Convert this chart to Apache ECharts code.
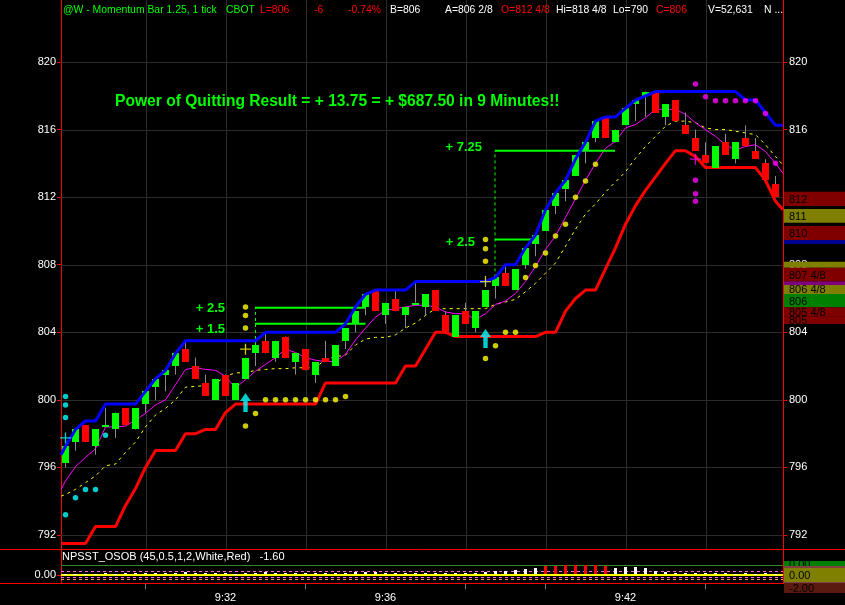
<!DOCTYPE html>
<html>
<head>
<meta charset="utf-8">
<title>Momentum Bar chart</title>
<script src="https://cdn.jsdelivr.net/npm/echarts@6.0.0/dist/echarts.min.js"></script>
<style>
html,body{margin:0;padding:0;background:#000;overflow:hidden}
#chart{width:845px;height:605px}
</style>
</head>
<body>
<div id="chart"></div>
<script>
// ================= DATA =================
const opens  = [796.25,797.5,798.5,797.25,798.5,798.25,799.5,798.25,799.75,800.75,
                801.5,802,803,802,801,800,801.5,800,801.25,802.75,
                803.5,802.5,803.75,802.25,803,801.5,802.5,802,803.5,804.5,
                805.5,806.5,805,806,805,805.75,805.5,806.5,805,803.75,
                805.25,804.25,805.5,806.75,807.5,806.5,808,809.25,810,811.5,
                812.5,813.25,814.75,815.5,816.75,815.25,816.25,817.5,818,818.25,
                816.75,817.75,816.25,815.5,814.5,813.75,815.25,814.25,815.5,814.75,
                814,812.75];
const closes = [797.25,798.25,797.5,798.25,798.5,799.25,798.5,799.5,800.5,801.25,
                801.75,802.75,802.25,801.25,800.25,801.25,800.25,801,802.5,803.25,
                802.75,803.5,802.5,802.75,801.75,802.25,802.25,803.25,804.25,805.25,
                806.25,805.25,805.75,805.25,805.5,805.75,806.25,805.25,804,805,
                804.5,805.25,806.5,807.25,806.75,807.75,809,809.75,811.25,812.25,
                813,814.5,815.25,816.5,815.5,816,817.25,817.75,818.25,817,
                817.5,816.5,815.75,814.75,814,815,814.5,815.25,815,814.25,
                813,812];
const lows   = [796,797,797.5,796.75,798.5,797.75,798.5,798.25,799.25,800,
                800.5,801.5,802.25,801.25,800.25,800,800.25,800,801.25,802,
                802.75,802.25,802.5,801.5,801.75,801,802.25,802,803,804,
                805,805.25,804.5,805.25,804.25,805.75,805,805.25,804,803.75,
                804.5,804,805.5,806,806.75,806.5,807.75,808.5,810,811,
                811.75,813.25,814,815.25,815.5,815.25,816.25,816.5,816.75,817,
                816.25,816.5,815.75,814.75,814,813.75,814.5,814,815,814.25,
                813,812];
const highs  = [797.25,798.25,798.5,798.25,799.5,799.25,799.5,799.5,800.5,801.25,
                801.75,802.75,803.5,802.5,801.5,801.25,801.5,801,802.5,803.25,
                804,803.5,803.75,802.75,803,802.25,803.5,803.25,804.25,805.25,
                806.25,806.5,805.75,806.5,805.5,807,806.25,806.5,805.25,805,
                805.75,805.25,806.5,807.25,808,807.75,809,809.75,811.25,812.25,
                813,814.5,815.25,816.5,816.75,816,817.25,817.75,818.25,818.25,
                817.5,817.75,817,816,815.25,815,815.75,815.25,816.25,815.5,
                814.25,813.25];

// upper (blue) and lower (red) stop lines, per bar, plus left/right edge values
const upperStop = [797.25,798.25,798.75,798.75,799.75,799.75,799.75,799.75,800.5,801.25,
                   801.75,802.75,803.5,803.5,803.5,803.5,803.5,803.5,803.5,803.5,
                   804,804,804,804,804,804,804,804,804.5,805.5,
                   806.25,806.5,806.5,806.5,806.5,807,807,807,807,807,
                   807,807,807,807.25,808,808,809,809.75,811.25,812.25,
                   813,814.25,815.25,816.5,816.75,816.75,817.25,817.75,818,818.25,
                   818.25,818.25,818.25,818.25,818.25,818.25,818.25,818.25,817.75,817.75,
                   817,816.25];
const upperEdge = [796.75, 816.25];
const lowerStop = [791.5,791.5,791.5,792.5,792.5,792.5,793.75,794.75,796,797,
                   797,797,798,798,798.25,798.25,799.25,799.75,799.75,799.75,
                   799.75,799.75,799.75,799.75,799.75,799.75,801,801,801,801,
                   801,801,801,801,802,802,803,804,804,803.75,
                   803.75,803.75,803.75,803.75,803.75,803.75,803.75,803.75,804,804,
                   805.25,806,806.5,806.5,807.75,809,810.4,811.5,812.4,813.2,
                   814,814.75,814.75,814.4,813.75,813.75,813.75,813.75,813.75,813.75,
                   813,811.75];
const lowerEdge = [791.5, 811.25];
// fast (magenta) and slow (yellow dashed) averages
const fastAvg = [795.2,796.05,796.6,797.1,798.4,798.4,798.45,798.8,799.2,799.7,
                 800,800.9,801.8,801.9,801.8,801.75,801.4,800.7,801.2,801.7,
                 802.1,802.5,803,802.8,802.5,802.35,802.27,802.27,802.7,803.55,
                 804.24,804.9,805.3,805.4,805.5,805.6,805.6,805.5,805.2,805.1,
                 805.1,804.75,805.1,805.65,805.85,806.3,807,807.9,808.9,809.7,
                 810.8,811.9,813,814,814.9,815.3,816.1,816.3,816.7,817.2,
                 817.2,817.2,816.9,816.4,816,815.6,815.1,814.8,815,815.1,
                 814.7,814];
const fastEdge = [794.7, 813.4];
const slowAvg = [794.4,794.7,795.1,795.5,796.1,796.2,796.9,797.5,798.4,799.1,
                 799.5,800,800.75,800.8,800.85,800.95,801.4,801.6,801.6,801.75,
                 801.8,801.85,801.85,801.9,801.9,801.9,802.4,802.55,802.65,803.25,
                 803.6,803.7,803.7,803.85,804.25,804.55,805,805.4,805.4,805.4,
                 805.4,805.4,805.4,805.65,805.8,805.95,806.4,806.9,807.5,808.1,
                 809.1,810.1,811,811.6,812.3,812.9,813.5,814.3,815,815.6,
                 816.2,816.5,816.5,816.4,816.1,816,816,815.9,815.8,815.7,
                 815.1,814.4];
const slowEdge = [794.3, 813.9];

// dots [bar, price]
const yellowDots = [[18,805.5],[18,805],[18,804.25],[18,798.45],[19,799.2],
                    [20,800],[21,800],[22,800],[23,800],[24,800],[25,800],[26,800],[27,800],[28,800.2],
                    [42,809.5],[42,808.95],[42,808.2],[42,802.45],[43,803.2],[44,804],[45,804],
                    [46,807.25],[47,807.95],[48,808.7],[49,809.7],[50,810.4],[51,812],[52,812.95],[53,813.95]];
const cyanDots = [[0,800.2],[0,799.7],[0,798.95],[0,793.2],[1,794.2],[2,794.7],[3,794.7],[4,797.9]];
const magentaDots = [[63,818.7],[64,817.95],[65,817.7],[66,817.7],[67,817.7],[68,817.7],[69,817.7],
                     [70,816.95],[71,814],[63,813],[63,812.2],[63,811.75]];
const cyanCross = [[0,797.75]];
const yellowCross = [[18,803],[42,807]];
const magentaCross = [[63,814.25]];
const arrowTips = [[18,800.4],[42,804.2]];

// trade result lines
const tradeLevel = [805.45, 804.5, 809.5, 814.75];
const tradeFrom  = [18.95, 18.95, 42.95, 42.95];
const tradeTo    = [30, 30, 46.95, 54.95];
const entryBar   = [19, 42.95];
const entryLow   = [803.25, 807.25];
const entryHigh  = [805.45, 814.75];
const annotText  = ['+ 2.5', '+ 1.5', '+ 7.25', '+ 2.5'];
const annotBar   = [15.95, 15.95, 41.65, 40.95];
const annotPrice = [805.4, 804.15, 814.95, 809.3];

// axes
const priceTicks = [792,796,800,804,808,812,816,820];
const timeBars   = [16, 32, 56];
const timeLabels = ['9:32', '9:36', '9:42'];
const timeGrid   = [8,16,24,32,40,48,56,64];
const timeMinorTicks = [8,24,40,48,64];

// right-side price markers
const markerTop    = [812.32, 811.30, 810.29, 809.46, 808.18, 807.82, 807.0, 806.8, 806.27, 805.48, 804.92];
const markerBottom = [811.48, 810.49, 809.46, 809.23, 807.82, 807.0, 806.8, 806.27, 805.48, 804.92, 804.49];
const markerText   = ['812', '811', '810', '', '', '807 4/8', '', '806 4/8', '806', '805 4/8', '805'];
const markerKind   = [0, 1, 0, 2, 1, 0, 3, 1, 4, 0, 0];

// lower oscillator panel (NPSST_OSOB)
const oscValues = [0.15,0.2,0.2,0.25,0.3,0.25,0.3,0.35,0.3,0.4,
                   0.35,0.4,0.45,0.35,0.3,0.35,0.3,0.25,0.35,0.4,
                   0.45,0.4,0.35,0.3,0.3,0.35,0.3,0.35,0.4,0.45,
                   0.5,0.45,0.4,0.35,0.35,0.3,0.4,0.35,0.3,0.3,
                   0.35,0.3,0.45,0.6,0.7,0.8,1.0,1.25,1.55,1.5,
                   1.6,1.7,1.7,1.7,1.45,1.2,1.35,1.3,1.1,0.6,
                   0.5,0.4,0.35,0.3,0.3,0.35,0.3,0.25,0.3,0.25,
                   0.3,0.25];
const oscHot = [48,49,50,51,52,53,54];
const oscLevels = [1.5833, 0.5833, 0, -0.4167, -0.75];
const oscMarkerTop    = [2.33, 1.5, 1.42, -1.25, -1.33];
const oscMarkerBottom = [1.5, -1.33, 1.25, -1.33, -3.0];
const oscMarkerText   = ['0.00', '0.00', '', '', '-2.00'];
const oscMarkerKind   = [4, 1, 3, 3, 5];

// ================= STYLE =================
const FONT = '"Liberation Sans", Arial, sans-serif';
const XMIN = -0.45, XMAX = 71.75;
const YMIN = 791.172, YMAX = 823.67;
const OMAX = 25 / 6, OMIN = OMAX - 33 / 6;
const markerColors = ['#800000', '#808000', '#000090', '#800080', '#008000', '#5a1a10'];
const levelStyles = [
  {color:'#2a8a2a', width:1, type:'solid'},
  {color:'#ff66dd', width:1, type:[3,3]},
  {color:'#ffff00', width:2, type:'solid'},
  {color:'#ff66dd', width:1, type:[3,3]},
  {color:'#ff9966', width:1, type:[3,3]}
];

function withEdges(vals, edge) {
  const d = [[XMIN, edge[0]]];
  vals.forEach((v, i) => d.push([i, v]));
  d.push([XMAX, edge[1]]);
  return d;
}

const chart = echarts.init(document.getElementById('chart'), null, {renderer: 'canvas'});

const series = [];

// horizontal price grid
series.push({
  type: 'custom', xAxisIndex: 0, yAxisIndex: 0, z: 1, silent: true,
  data: priceTicks.map(p => [0, p]),
  renderItem: (params, api) => {
    const a = api.coord([XMIN, api.value(1)]), b = api.coord([XMAX, api.value(1)]);
    const y = Math.round(a[1]) + 0.5;
    return {type: 'line', shape: {x1: a[0], y1: y, x2: b[0], y2: y}, style: {stroke: '#2c2c2c', lineWidth: 1}};
  }
});
// vertical time grid
series.push({
  type: 'custom', xAxisIndex: 0, yAxisIndex: 0, z: 1, silent: true,
  data: timeGrid.map(t => [t, YMIN]),
  renderItem: (params, api) => {
    const a = api.coord([api.value(0), YMIN]), b = api.coord([api.value(0), YMAX]);
    const x = Math.round(a[0]) + 0.5;
    return {type: 'line', shape: {x1: x, y1: a[1], x2: x, y2: b[1]}, style: {stroke: '#2c2c2c', lineWidth: 1}};
  }
});

// lines
series.push({type:'line', xAxisIndex:0, yAxisIndex:0, z:3, silent:true, symbol:'none',
  data: withEdges(slowAvg, slowEdge), lineStyle:{color:'#ffff00', width:1, type:[3,4]}});
series.push({type:'line', xAxisIndex:0, yAxisIndex:0, z:3, silent:true, symbol:'none',
  data: withEdges(fastAvg, fastEdge), lineStyle:{color:'#ff00ff', width:1}});
series.push({type:'line', xAxisIndex:0, yAxisIndex:0, z:4, silent:true, symbol:'none',
  data: withEdges(lowerStop, lowerEdge), lineStyle:{color:'#ff0000', width:3}});

// trade result lines
tradeLevel.forEach((lv, i) => {
  series.push({type:'line', xAxisIndex:0, yAxisIndex:0, z:3, silent:true, symbol:'none',
    data: [[tradeFrom[i], lv], [tradeTo[i], lv]], lineStyle:{color:'#00ff00', width:2}});
});
entryBar.forEach((b, i) => {
  series.push({type:'line', xAxisIndex:0, yAxisIndex:0, z:3, silent:true, symbol:'none',
    data: [[b, entryLow[i]], [b, entryHigh[i]]], lineStyle:{color:'#00ff00', width:1, type:[3,3]}});
});

// candles
series.push({
  type: 'custom', xAxisIndex: 0, yAxisIndex: 0, z: 5, silent: true,
  data: opens.map((o, i) => [i, o, closes[i], lows[i], highs[i]]),
  renderItem: (params, api) => {
    const i = api.value(0), o = api.value(1), c = api.value(2), l = api.value(3), h = api.value(4);
    const pO = api.coord([i, o]), pC = api.coord([i, c]), pL = api.coord([i, l]), pH = api.coord([i, h]);
    const x = Math.floor(pO[0]);
    const top = Math.round(Math.min(pO[1], pC[1])), bot = Math.round(Math.max(pO[1], pC[1]));
    const color = c >= o ? '#00ff00' : '#ff0000';
    return {type: 'group', children: [
      {type: 'line', shape: {x1: x + 0.5, y1: pH[1], x2: x + 0.5, y2: pL[1]}, style: {stroke: '#8a8a8a', lineWidth: 1}},
      {type: 'rect', shape: {x: x - 3, y: top, width: 7, height: Math.max(bot - top, 2)}, style: {fill: color}}
    ]};
  }
});

// blue upper stop drawn above candles
series.push({type:'line', xAxisIndex:0, yAxisIndex:0, z:6, silent:true, symbol:'none',
  data: withEdges(upperStop, upperEdge), lineStyle:{color:'#0000ff', width:3}});

// dots
const dotSets = [[yellowDots, '#ffff00'], [cyanDots, '#00ffff'], [magentaDots, '#ff00ff']];
dotSets.forEach(([d, col]) => {
  series.push({type:'scatter', xAxisIndex:0, yAxisIndex:0, z:7, silent:true,
    data: d, symbol:'circle', symbolSize:5.5, itemStyle:{color: col}});
});
const crossPath = 'path://M4.4,0H5.6V4.4H10V5.6H5.6V10H4.4V5.6H0V4.4H4.4Z';
[[cyanCross, '#00ffff'], [yellowCross, '#ffff00'], [magentaCross, '#ff00ff']].forEach(([d, col]) => {
  series.push({type:'scatter', xAxisIndex:0, yAxisIndex:0, z:7, silent:true,
    data: d, symbol: crossPath, symbolSize: 11, itemStyle:{color: col}});
});
series.push({type:'scatter', xAxisIndex:0, yAxisIndex:0, z:7, silent:true,
  data: arrowTips, symbol: 'path://M5,0L10,8H7V19H3V8H0Z', symbolSize:[11,19], symbolOffset:[0,'50%'],
  itemStyle:{color:'#00ffff'}});

// annotations
series.push({
  type: 'custom', xAxisIndex: 0, yAxisIndex: 0, z: 8, silent: true,
  data: annotText.map((t, i) => [annotBar[i], annotPrice[i], i]),
  renderItem: (params, api) => {
    const p = api.coord([api.value(0), api.value(1)]);
    return {type: 'text', x: p[0], y: p[1], style: {text: annotText[api.value(2)], fill: '#00ff00',
      font: 'bold 13px ' + FONT, textAlign: 'right', textVerticalAlign: 'middle'}};
  }
});

// right price markers
series.push({
  type: 'custom', xAxisIndex: 0, yAxisIndex: 0, z: 9, silent: true, clip: false,
  data: markerTop.map((t, i) => [XMAX, t, markerBottom[i], i]),
  renderItem: (params, api) => {
    const a = api.coord([XMAX, api.value(1)]), b = api.coord([XMAX, api.value(2)]);
    const idx = api.value(3);
    const x0 = Math.round(a[0]) + 1;
    const children = [{type: 'rect', shape: {x: x0, y: a[1], width: 845 - x0, height: b[1] - a[1]},
      style: {fill: markerColors[markerKind[idx]]}}];
    if (markerText[idx]) children.push({type: 'text', x: x0 + 5, y: (a[1] + b[1]) / 2 + 1,
      style: {text: markerText[idx], fill: '#000', font: '11px ' + FONT, textVerticalAlign: 'middle'}});
    return {type: 'group', children};
  }
});

// oscillator panel levels
oscLevels.forEach((lv, i) => {
  series.push({type:'line', xAxisIndex:1, yAxisIndex:2, z:2, silent:true, symbol:'none',
    data: [[XMIN, lv], [XMAX, lv]], lineStyle: levelStyles[i]});
});
series.push({
  type: 'custom', xAxisIndex: 1, yAxisIndex: 2, z: 4, silent: true,
  data: oscValues.map((v, i) => [i, v]),
  renderItem: (params, api) => {
    const i = api.value(0);
    const a = api.coord([i, 0]), b = api.coord([i, api.value(1)]);
    const x = Math.floor(a[0]);
    const hot = oscHot.indexOf(i) >= 0;
    const y0 = Math.round(a[1]) - 1, y1 = Math.round(b[1]);
    return {type: 'rect', shape: {x: x - 1, y: y1, width: 3, height: Math.max(y0 - y1, 1)},
      style: {fill: hot ? '#ff0000' : '#ffffff'}};
  }
});
series.push({
  type: 'custom', xAxisIndex: 1, yAxisIndex: 2, z: 9, silent: true, clip: false,
  data: oscMarkerTop.map((t, i) => [XMAX, t, oscMarkerBottom[i], i]),
  renderItem: (params, api) => {
    const a = api.coord([XMAX, api.value(1)]), b = api.coord([XMAX, api.value(2)]);
    const idx = api.value(3);
    const x0 = Math.round(a[0]) + 1;
    const children = [{type: 'rect', shape: {x: x0, y: a[1], width: 845 - x0, height: b[1] - a[1]},
      style: {fill: markerColors[oscMarkerKind[idx]]}}];
    if (oscMarkerText[idx]) children.push({type: 'text', x: x0 + 5, y: (a[1] + b[1]) / 2 + 1,
      style: {text: oscMarkerText[idx], fill: '#000', font: '11px ' + FONT, textVerticalAlign: 'middle'}});
    return {type: 'group', children};
  }
});

const header = [
  ['@W - Momentum Bar 1.25, 1 tick', 63, '#00ff00'],
  ['CBOT', 226, '#00ff00'],
  ['L=806', 260, '#ff0000'],
  ['-6', 314, '#ff0000'],
  ['-0.74%', 348, '#ff0000'],
  ['B=806', 390, '#ffffff'],
  ['A=806 2/8', 445, '#ffffff'],
  ['O=812 4/8', 501, '#ff0000'],
  ['Hi=818 4/8', 556, '#ffffff'],
  ['Lo=790', 613, '#ffffff'],
  ['C=806', 656, '#ff0000'],
  ['V=52,631', 708, '#ffffff'],
  ['N ...', 764, '#ffffff']
];

const graphics = header.map(([t, x, c]) => ({type: 'text', x: x, y: 10, z: 20, silent: true,
  style: {text: t, fill: c, font: '10.4px ' + FONT, textVerticalAlign: 'middle'}}));
graphics.push({type: 'text', x: 115, y: 102, z: 20, silent: true,
  style: {text: 'Power of Quitting Result = + 13.75 = + $687.50 in 9 Minutes!!', fill: '#00ff00',
    font: 'bold 15.6px ' + FONT, textVerticalAlign: 'middle'}});
graphics.push({type: 'text', x: 62, y: 557, z: 20, silent: true,
  style: {text: 'NPSST_OSOB (45,0.5,1,2,White,Red)   -1.60', fill: '#ffffff', font: '11px ' + FONT, textVerticalAlign: 'middle'}});
graphics.push({type: 'line', z: 20, silent: true, shape: {x1: 0, y1: 549.5, x2: 845, y2: 549.5}, style: {stroke: '#ff0000', lineWidth: 1}});
graphics.push({type: 'line', z: 20, silent: true, shape: {x1: 0, y1: 583.5, x2: 784, y2: 583.5}, style: {stroke: '#ff0000', lineWidth: 1}});

const axisLabelStyle = {color: '#ffffff', fontSize: 11, fontFamily: FONT};

const option = {
  backgroundColor: '#000000',
  animation: false,
  grid: [
    {left: 61, right: 62, top: 0, height: 549},
    {left: 61, right: 62, top: 550, height: 33}
  ],
  xAxis: [
    {gridIndex: 0, type: 'value', min: XMIN, max: XMAX, show: false},
    {gridIndex: 1, type: 'value', min: XMIN, max: XMAX,
      axisLine: {show: false, onZero: false}, splitLine: {show: false},
      axisTick: {show: true, customValues: timeMinorTicks, length: 6, lineStyle: {color: '#7a7a7a'}},
      axisLabel: Object.assign({customValues: timeBars, margin: 9,
        formatter: v => timeLabels[timeBars.indexOf(Math.round(v))] || ''}, axisLabelStyle)}
  ],
  yAxis: [
    {gridIndex: 0, type: 'value', min: YMIN, max: YMAX, position: 'left',
      axisLine: {show: true, onZero: false, lineStyle: {color: '#ff0000'}},
      axisTick: {show: true, customValues: priceTicks, length: 4, lineStyle: {color: '#ff0000'}},
      axisLabel: Object.assign({customValues: priceTicks, margin: 5}, axisLabelStyle),
      splitLine: {show: false}},
    {gridIndex: 0, type: 'value', min: YMIN, max: YMAX, position: 'right',
      axisLine: {show: true, onZero: false, lineStyle: {color: '#ff0000'}},
      axisTick: {show: true, customValues: priceTicks, length: 4, lineStyle: {color: '#ff0000'}},
      axisLabel: Object.assign({customValues: priceTicks, margin: 6}, axisLabelStyle),
      splitLine: {show: false}},
    {gridIndex: 1, type: 'value', min: OMIN, max: OMAX, position: 'left',
      axisLine: {show: true, onZero: false, lineStyle: {color: '#ff0000'}},
      axisTick: {show: true, customValues: [0], length: 4, lineStyle: {color: '#ff0000'}},
      axisLabel: Object.assign({customValues: [0], margin: 5, formatter: () => '0.00'}, axisLabelStyle),
      splitLine: {show: false}},
    {gridIndex: 1, type: 'value', min: OMIN, max: OMAX, position: 'right',
      axisLine: {show: true, onZero: false, lineStyle: {color: '#ff0000'}},
      axisTick: {show: false}, axisLabel: {show: false}, splitLine: {show: false}}
  ],
  graphic: graphics,
  series: series
};

chart.setOption(option);
</script>
</body>
</html>
